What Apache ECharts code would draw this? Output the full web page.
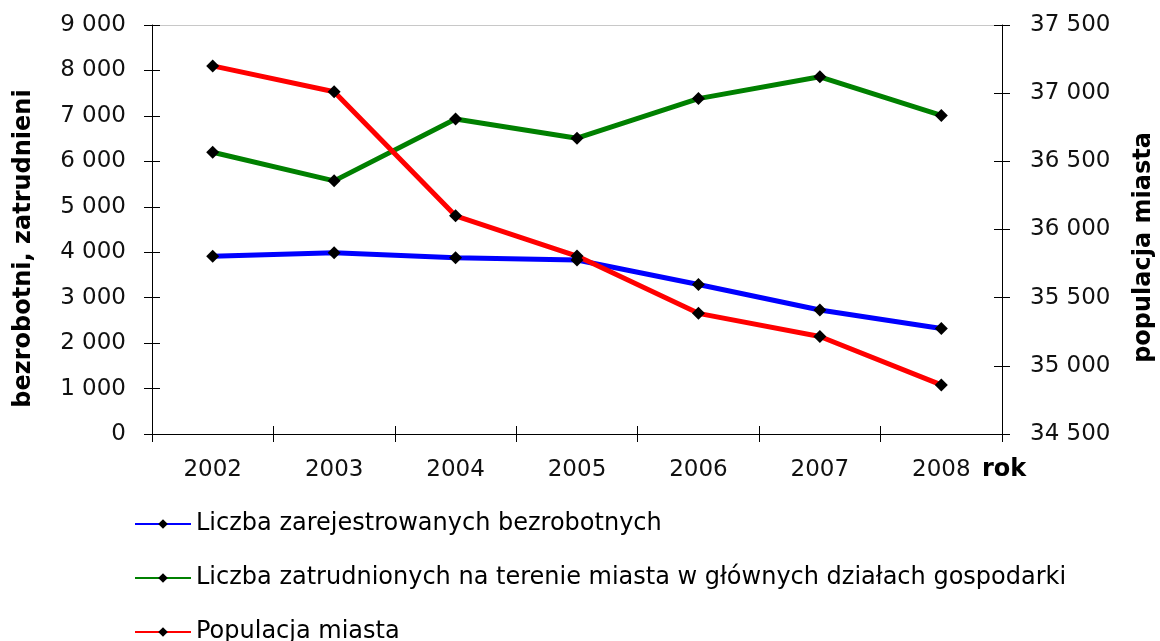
<!DOCTYPE html>
<html>
<head>
    <meta charset="utf-8">
    <script src="https://cdn.jsdelivr.net/npm/echarts@6/dist/echarts.min.js"></script>
</head>
<style type="text/css">
    body { margin: 0; background: #fff; }
    #chart { width: 1160px; height: 641px; }
</style>
<body>
    <div id="chart"></div>
</body>
</html>

<script type="text/javascript">
    let years = ['2002', '2003', '2004', '2005', '2006', '2007', '2008']
    let bezrobotni = [3910, 3990, 3880, 3830, 3290, 2730, 2320]
    let zatrudnieni = [6200, 5570, 6930, 6510, 7380, 7860, 7010]
    let populacja = [37200, 37010, 36100, 35805, 35385, 35215, 34860]

    let names = [
        'Liczba zarejestrowanych bezrobotnych',
        'Liczba zatrudnionych na terenie miasta w głównych działach gospodarki',
        'Populacja miasta'
    ]

    const font = 'DejaVu Sans'

    function fmt(v) {
        if (v < 1000) return String(v)
        let rest = String(v % 1000).padStart(3, '0')
        return Math.floor(v / 1000) + ' ' + rest
    }

    let myChart = echarts.init(document.getElementById('chart'))

    let tickOut = { show: true, inside: false, length: 8, lineStyle: { color: '#000', width: 1 } }
    let tickIn = { show: true, inside: true, length: 8, lineStyle: { color: '#000', width: 1 } }

    function line(name, data, color, yIdx) {
        return {
            name: name,
            type: 'line',
            yAxisIndex: yIdx,
            data: data,
            symbol: 'diamond',
            symbolSize: 13,
            itemStyle: { color: '#000' },
            lineStyle: { color: color, width: 5 },
            emphasis: { disabled: true }
        }
    }

    let option = {
        animation: false,
        textStyle: { fontFamily: font },
        grid: { left: 152, right: 158, top: 25, bottom: 207, outerBoundsMode: 'none', containLabel: false },
        legend: {
            orient: 'vertical',
            left: 134,
            top: 512,
            height: 200,
            padding: 0,
            itemWidth: 56,
            itemHeight: 12,
            itemGap: 30,
            data: names,
            textStyle: { fontFamily: font, fontSize: 24, color: '#000', lineHeight: 24 }
        },
        xAxis: [
            {
                type: 'category',
                data: years,
                position: 'bottom',
                axisLine: { lineStyle: { color: '#000', width: 1 } },
                axisTick: tickOut,
                axisLabel: { margin: 25, fontSize: 23, color: '#111', fontFamily: font },
                name: 'rok',
                nameLocation: 'end',
                nameGap: -20,
                nameTextStyle: {
                    fontFamily: font, fontSize: 24, fontWeight: 'bold', color: '#000',
                    align: 'left', verticalAlign: 'top', padding: [24, 0, 0, 0]
                }
            },
            {
                type: 'category',
                data: years,
                position: 'bottom',
                axisLine: { show: false },
                axisTick: tickIn,
                axisLabel: { show: false }
            },
            {
                type: 'category',
                data: years,
                position: 'top',
                axisLine: { lineStyle: { color: '#c8c8c8', width: 1 } },
                axisTick: { show: false },
                axisLabel: { show: false }
            }
        ],
        yAxis: [
            {
                type: 'value',
                position: 'left',
                min: 0, max: 9000, interval: 1000,
                axisLine: { show: true, lineStyle: { color: '#000', width: 1 } },
                axisTick: tickOut,
                splitLine: { show: false },
                axisLabel: { margin: 26, fontSize: 23, color: '#111', fontFamily: font, formatter: fmt },
                name: 'bezrobotni, zatrudnieni',
                nameLocation: 'middle',
                nameGap: 116,
                nameTextStyle: { fontFamily: font, fontSize: 24, fontWeight: 'bold', color: '#000', padding: [0, 38, 0, 0] }
            },
            {
                type: 'value',
                position: 'right',
                min: 34500, max: 37500, interval: 500,
                axisLine: { show: true, lineStyle: { color: '#000', width: 1 } },
                axisTick: tickOut,
                splitLine: { show: false },
                axisLabel: { margin: 28, fontSize: 23, color: '#111', fontFamily: font, formatter: fmt },
                name: 'populacja miasta',
                nameLocation: 'middle',
                nameRotate: 90,
                nameGap: 130,
                nameTextStyle: { fontFamily: font, fontSize: 24, fontWeight: 'bold', color: '#000', padding: [0, 36, 0, 0] }
            },
            {
                type: 'value',
                position: 'left',
                min: 0, max: 9000, interval: 1000,
                axisLine: { show: false },
                axisTick: tickIn,
                splitLine: { show: false },
                axisLabel: { show: false }
            },
            {
                type: 'value',
                position: 'right',
                min: 34500, max: 37500, interval: 500,
                axisLine: { show: false },
                axisTick: tickIn,
                splitLine: { show: false },
                axisLabel: { show: false }
            }
        ],
        series: [
            line(names[0], bezrobotni, '#0000ff', 0),
            line(names[1], zatrudnieni, '#008000', 0),
            line(names[2], populacja, '#ff0000', 1)
        ]
    }

    myChart.setOption(option)
</script>
